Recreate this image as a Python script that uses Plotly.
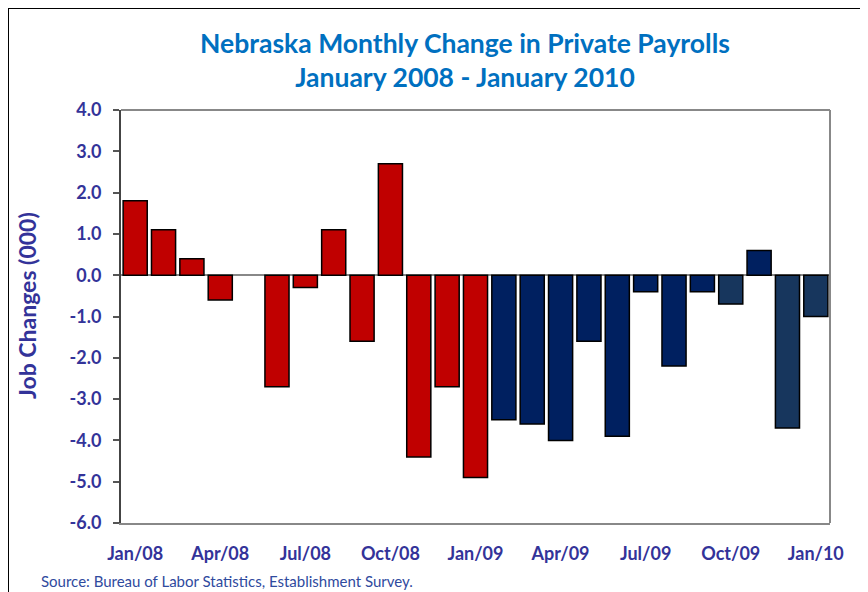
import plotly.graph_objects as go

months = ["Jan/08", "Feb/08", "Mar/08", "Apr/08", "May/08", "Jun/08", "Jul/08", "Aug/08",
          "Sep/08", "Oct/08", "Nov/08", "Dec/08", "Jan/09", "Feb/09", "Mar/09", "Apr/09",
          "May/09", "Jun/09", "Jul/09", "Aug/09", "Sep/09", "Oct/09", "Nov/09", "Dec/09", "Jan/10"]
changes = [1.8, 1.1, 0.4, -0.6, 0.0, -2.7, -0.3, 1.1, -1.6, 2.7, -4.4, -2.7, -4.9,
           -3.5, -3.6, -4.0, -1.6, -3.9, -0.4, -2.2, -0.4, -0.7, 0.6, -3.7, -1.0]
tick_labels = ["Jan/08", "Apr/08", "Jul/08", "Oct/08", "Jan/09", "Apr/09", "Jul/09", "Oct/09", "Jan/10"]
y_ticks = [4, 3, 2, 1, 0, -1, -2, -3, -4, -5, -6]

RED = "#C00000"
NAVY = "#002060"
SLATE = "#17365D"
colors = [RED] * 13 + [NAVY] * 8 + [SLATE, NAVY, SLATE, SLATE]
outline_w = [0 if v == 0 else 1.5 for v in changes]

TXT = "#333399"
FONT = "Lato"

# plot area in figure pixels
L, R, T, B = 113, 46, 102, 77
PW = 868 - L - R
PH = 592 - T - B

def px(xf):
    return (xf - L) / PW

def py(yf):
    return (592 - B - yf) / PH

fig = go.Figure(go.Bar(
    x=months, y=changes,
    marker=dict(color=colors, line=dict(color="black", width=outline_w)),
))

fig.update_layout(
    width=868, height=592,
    margin=dict(l=L, r=R, t=T, b=B, autoexpand=False),
    paper_bgcolor="white", plot_bgcolor="white",
    bargap=0.15,
    showlegend=False,
    title=dict(
        text="Nebraska Monthly Change in Private Payrolls<br>January 2008 - January 2010",
        x=457 / 868, xanchor="center", y=1 - 44.5 / 592, yanchor="middle",
        font=dict(family=FONT, size=26.5, color="#0070C0", weight="bold"),
    ),
    xaxis=dict(
        type="category",
        tickmode="array", tickvals=tick_labels, ticktext=tick_labels,
        tickfont=dict(family=FONT, size=18, color=TXT, weight="bold"),
        ticklabelstandoff=13,
        showline=True, linecolor="#888888", linewidth=2,
        ticks="", showgrid=False, range=[-0.5, 24.5],
    ),
    yaxis=dict(
        range=[-6, 4], tickvals=y_ticks,
        ticktext=[f"{v:.1f}" for v in y_ticks],
        tickfont=dict(family=FONT, size=18, color=TXT, weight="bold"),
        ticks="outside", ticklen=6, tickcolor="#555555", tickwidth=1.5,
        ticklabelstandoff=8,
        showline=True, linecolor="#444444", linewidth=2,
        showgrid=False, zeroline=True, zerolinecolor="#888888", zerolinewidth=1.5,
    ),
)

# y-axis title as rotated annotation
fig.add_annotation(
    text="<b>Job Changes (000)</b>", textangle=-90,
    xref="paper", yref="paper", x=px(19), y=py(298),
    xanchor="center", yanchor="middle", showarrow=False,
    font=dict(family=FONT, size=23, color=TXT),
)

# gray top/right frame of the plot area
fig.add_shape(type="line", xref="paper", yref="paper", x0=0, x1=1, y0=1, y1=1,
              line=dict(color="#888888", width=2))
fig.add_shape(type="line", xref="paper", yref="paper", x0=1, x1=1, y0=0, y1=1,
              line=dict(color="#888888", width=2))

# outer chart border
fig.add_shape(type="rect", xref="paper", yref="paper",
              x0=px(0), x1=px(858), y0=py(640), y1=py(0),
              line=dict(color="black", width=2), fillcolor="rgba(0,0,0,0)", layer="below")

fig.add_annotation(
    text="Source: Bureau of Labor Statistics, Establishment Survey.",
    xref="paper", yref="paper", x=px(31), y=py(573),
    xanchor="left", yanchor="middle", showarrow=False,
    font=dict(family=FONT, size=15, color="#2F4A9E"),
)

fig.write_html("out.html")
